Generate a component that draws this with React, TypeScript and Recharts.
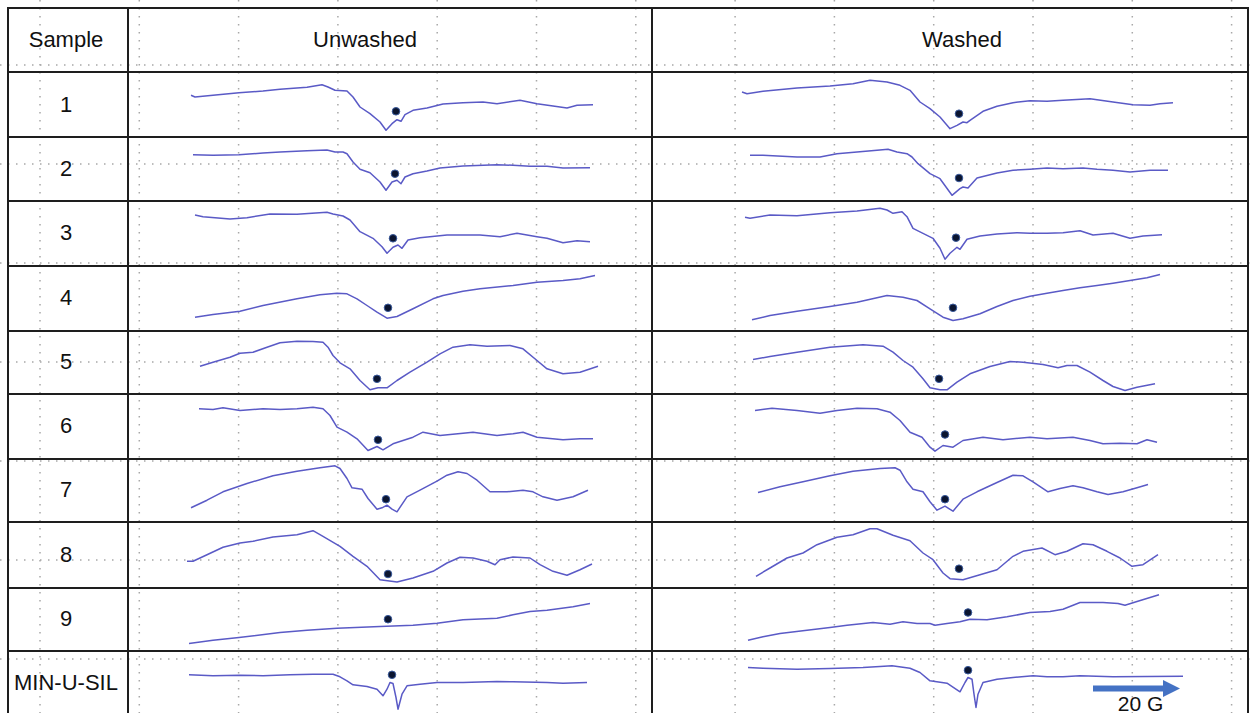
import { LineChart, Line, XAxis, YAxis, CartesianGrid, ReferenceDot, ReferenceLine } from 'recharts';

// row labels
const samples = ['1', '2', '3', '4', '5', '6', '7', '8', '9', 'MIN-U-SIL'];
const columnTitles = ['Sample', 'Unwashed', 'Washed'];

// EPR traces: [field, signal] (field in px-equivalent units from column edge)
const unwashed1 = [[63,41.7],[67,40],[85,41.7],[111,44.3],[135,46],[152,47.7],[179,49.7],[194,52.3],[200,50],[207,46.7],[219,46],[225,40],[232,30],[242,23.3],[252,15],[258,6.7],[264,13.3],[269,17.3],[273,15.7],[277,22.3],[285,26.7],[299,29],[315,33],[335,34.3],[355,35],[369,33.3],[392,36.7],[409,33.3],[425,31],[439,29],[449,31.7],[465,32.3]];
const unwashed2 = [[65,46.3],[85,45.7],[111,46.3],[135,48],[152,49],[179,50.3],[199,51],[207,49],[215,49],[219,47.3],[225,39],[232,31.7],[242,28.3],[252,19],[258,10.7],[264,19],[269,20.7],[273,17.3],[277,24],[285,27.3],[299,30],[312,33],[335,35],[369,36.3],[385,35.7],[402,34.7],[419,34.7],[435,33],[462,33.3]];
const unwashed3 = [[67,50.5],[75,48.8],[102,46.5],[119,47.8],[142,51.5],[169,51.2],[199,53.2],[205,51.5],[215,49.5],[222,45.5],[232,33.8],[245,27.2],[254,18.8],[259,12.2],[265,18.2],[270,20.5],[274,17.2],[280,25.5],[292,27.8],[319,30.5],[352,30.5],[372,28.8],[389,32.2],[409,28.8],[419,27.2],[435,22.8],[449,24.8],[462,23.8]];
const unwashed4 = [[67,13.8],[85,16.5],[112,19.8],[135,25.5],[169,32.2],[192,36.2],[209,37.8],[219,37.2],[229,32.2],[239,25.5],[249,18.8],[259,12.8],[269,14.5],[285,22.2],[305,32.2],[315,35.5],[335,39.8],[352,42.2],[385,45.5],[409,48.8],[435,50.5],[452,52.2],[467,55.5]];
const unwashed5 = [[72,27.8],[85,31.8],[102,36.8],[112,40.8],[125,41.8],[139,46.8],[152,51.2],[169,52.8],[185,52.5],[195,51.8],[200,46.8],[205,38.5],[212,31.2],[222,25.2],[232,13.5],[242,4.2],[250,6.2],[259,6.2],[269,13.5],[282,21.8],[299,31.8],[312,40.2],[325,46.8],[342,49.2],[359,47.8],[382,48.5],[395,45.2],[409,33.5],[419,25.2],[435,20.2],[452,21.8],[470,27.8]];
const unwashed6 = [[71,50.2],[85,49.5],[95,51.2],[112,48.5],[135,50.2],[152,49.5],[169,50.2],[185,51.8],[195,50.2],[202,43.5],[209,31.8],[219,26.8],[229,20.2],[240,8.5],[249,12.5],[255,9.2],[265,15.2],[285,21.8],[295,26.8],[312,23.5],[335,25.8],[345,26.8],[369,23.5],[385,25.2],[395,26.8],[409,21.8],[435,19.2],[452,20.2],[465,20.2]];
const unwashed7 = [[63,14.7],[79,22.3],[95,30.7],[119,39],[145,46.7],[169,51.3],[192,54.7],[207,56.7],[212,54],[219,44],[224,34.7],[234,33.3],[240,24],[249,13.3],[254,14.7],[259,17.3],[264,13.3],[269,10.7],[279,25.7],[292,32.3],[309,41.3],[319,47.3],[330,50.7],[339,49],[349,42.3],[362,30.7],[379,30.7],[395,32.3],[405,30.7],[415,25.7],[429,22.3],[445,25.7],[460,32.3]];
const unwashed8 = [[59,26.2],[65,26.2],[79,32.8],[95,40.2],[112,44.5],[125,46.2],[145,50.5],[169,52.8],[185,56.8],[195,51.2],[212,41.2],[225,31.2],[239,21.2],[252,7.8],[269,5.5],[285,9.5],[305,16.2],[319,24.5],[332,30.2],[345,29.5],[359,26.2],[367,22.8],[372,27.8],[385,30.5],[402,29.5],[412,22.8],[425,16.2],[439,12.2],[452,17.8],[464,23.5]];
const unwashed9 = [[61,7.5],[85,10.8],[111,13.5],[152,18.5],[179,20.8],[209,22.8],[252,24.5],[285,25.8],[309,27.8],[335,31.2],[369,32.8],[385,36.2],[402,39.5],[419,40.8],[445,44.2],[462,47.5]];
const unwashedMin = [[61,40.2],[85,39.2],[112,39.8],[135,39.2],[162,40.2],[185,40.8],[205,40.8],[212,38.2],[219,34.2],[225,30.2],[239,28.5],[249,25.8],[255,19.2],[259,25.8],[262,32.5],[265,31.5],[268,17.5],[270,5.8],[274,20.8],[279,29.2],[292,30.8],[309,32.5],[335,32.5],[369,33.5],[385,33.2],[419,32.5],[435,31.8],[459,32.5]];

const washed1 = [[90,45],[95,43.3],[111,45.7],[145,49],[178,51],[201,53.3],[218,56.7],[235,55],[248,51.7],[258,46.7],[268,35],[278,28.3],[288,20],[298,8.3],[305,11.7],[311,15],[315,14.3],[318,16.7],[331,25.7],[345,30.7],[361,34.3],[378,36.3],[395,35.7],[411,36.7],[438,38.3],[461,35],[481,32.3],[498,31.7],[508,33.3],[521,34.3]];
const washed2 = [[98,45.7],[111,45.7],[145,44],[168,44],[185,47.3],[205,49],[225,50.7],[236,51.7],[245,49],[255,47.3],[260,44],[266,37.3],[278,27.3],[288,22.3],[300,5.7],[308,12.3],[311,14],[316,13],[325,23],[345,28],[361,30.7],[378,31.7],[395,33],[411,32.3],[431,33],[445,31.7],[461,30.7],[478,29],[498,30.7],[516,30.7]];
const washed3 = [[93,48.2],[98,47.2],[118,50.5],[145,49.8],[178,52.8],[205,54.5],[228,57.2],[235,55.5],[241,52.2],[250,53.8],[255,48.8],[261,37.2],[271,32.2],[281,27.2],[288,17.2],[293,6.2],[298,12.2],[305,18.2],[308,16.2],[315,26.2],[328,29.5],[345,31.5],[365,32.8],[378,32.2],[395,32.2],[411,32.8],[428,34.8],[441,30.5],[461,32.2],[478,27.2],[491,29.5],[510,30.8]];
const washed4 = [[100,11.2],[118,15.5],[145,19.8],[178,24.5],[205,28.8],[225,33.2],[235,35.5],[251,33.8],[265,30.5],[278,22.2],[291,13.8],[301,10.5],[311,12.2],[328,17.2],[345,24.5],[361,30.5],[378,34.8],[395,37.8],[411,40.5],[428,43.2],[445,45.5],[461,47.8],[478,50.5],[495,53.2],[508,56.5]];
const washed5 = [[101,34.5],[118,37.5],[145,41.8],[178,46.8],[211,49.2],[231,47.8],[241,41.8],[251,33.5],[261,26.8],[271,15.2],[278,6.2],[288,4.2],[295,4.2],[305,11.8],[318,20.2],[338,27.5],[358,32.5],[371,31.8],[391,29.5],[406,26.2],[415,28.5],[425,28.5],[438,21.8],[451,13.5],[461,7.5],[473,3.5],[485,6.8],[503,10.2]];
const washed6 = [[103,48.5],[120,50.8],[145,48.5],[168,45.8],[185,48.5],[205,50.8],[225,50.2],[238,46.8],[248,38.5],[258,26.8],[270,21.8],[278,11.8],[283,7.8],[291,13.5],[301,11.8],[311,18.5],[331,21.8],[351,19.2],[378,21.8],[395,20.2],[421,21.8],[438,18.5],[451,15.2],[468,15.8],[485,15.2],[495,19.2],[505,16.8]];
const washed7 = [[106,30],[128,35.7],[151,40.7],[178,46.7],[201,51.3],[228,54],[243,54.7],[248,52.3],[255,40.7],[261,33.3],[271,30.7],[278,20.7],[285,12.3],[293,16.3],[301,11.3],[311,23.3],[325,30.7],[345,40],[361,47.3],[371,46.7],[381,40.7],[396,30.7],[408,34],[421,36.7],[431,34.7],[445,30.7],[456,28],[471,30.7],[485,34.7],[496,38]];
const washed8 = [[104,11.2],[118,19.5],[135,29.5],[151,34.5],[165,42.8],[185,50.2],[201,52.8],[218,58.8],[225,58.8],[241,52.2],[258,46.8],[271,34.5],[281,27.8],[291,14.5],[298,8.8],[311,7.8],[328,12.8],[345,17.8],[361,31.2],[371,36.2],[390,39.5],[403,32.8],[415,36.2],[431,43.8],[441,42.8],[455,36.2],[468,29.5],[480,21.2],[491,22.8],[506,32.8]];
const washed9 = [[96,10.8],[111,14.2],[128,17.5],[155,20.8],[178,23.5],[195,25.8],[221,28.5],[238,26.8],[251,29.2],[265,27.5],[278,27.5],[283,25.8],[295,27.5],[308,29.2],[318,31.8],[335,31.2],[355,34.2],[378,38.5],[398,39.5],[411,41.8],[428,48.5],[451,48.5],[466,47.5],[473,45.8],[485,49.5],[507,56.2]];
const washedMin = [[96,47.5],[111,46.8],[145,45.8],[178,46.5],[211,47.5],[228,48.5],[240,49.2],[258,46.8],[268,42.5],[278,34.2],[295,31.8],[308,23.2],[313,32.5],[316,37.5],[320,35.8],[322,20.8],[324,7.5],[326,20.8],[331,32.5],[345,35.8],[361,37.5],[381,39.2],[395,38.2],[411,38.2],[428,39.2],[461,38.2],[495,38.5],[531,38.8]];

// g-marker dots [field, signal]
const unwashedMarks = [[268,25.7],[267,27.3],[265,27.2],[260,23.2],[249,15.2],[250,19.2],[258,23.3],[260,13.5],[260,31.8],[264,40.2]];
const washedMarks = [[307,23.3],[307,23],[304,27.8],[301,23.2],[287,15.2],[293,24.5],[293,23.3],[307,18.8],[316,38.5],[316,44.8]];

// 20 G scale bar in the last washed cell
const scaleBar = { from: 441, to: 528, level: 26.5, label: '20 G' };

const unwashedSpectra = [unwashed1, unwashed2, unwashed3, unwashed4, unwashed5, unwashed6, unwashed7, unwashed8, unwashed9, unwashedMin];
const washedSpectra = [washed1, washed2, washed3, washed4, washed5, washed6, washed7, washed8, washed9, washedMin];

// layout
const W = 1253;
const H = 713;
const rowEdges = [72, 137, 201, 265.5, 330.5, 393.5, 458.5, 522, 587.5, 650.5, 714.5];
const colEdges = [8, 128, 652, 1248];
const titleCentres = [66, 365, 962];
const labelCentre = 66;
const tableTop = 8;
const gridStep = 99.3;
const gridX = Array.from({ length: 13 }, (_, i) => 40 + i * gridStep);
const gridY = Array.from({ length: 7 }, (_, i) => 65 + i * 99);

const FONT = '"Liberation Sans", Arial, sans-serif';
const TRACE = '#5a5ac6';
const LINE = '#1e1e1e';

const Arrow = (props: any) => {
    const { x1, y1, x2 } = props;
    const head = 17;
    return (
        <g>
            <line x1={x1} y1={y1} x2={x2 - head + 1} y2={y1} stroke="#4472c4" strokeWidth={6} />
            <polygon points={`${x2 - head},${y1 - 8.5} ${x2},${y1} ${x2 - head},${y1 + 8.5}`} fill="#4472c4" />
            <text x={(x1 + x2) / 2 + 4} y={y1 + 22} textAnchor="middle" fontSize={21} fill="#111" fontFamily={FONT}>
                {scaleBar.label}
            </text>
        </g>
    );
};

function Spectrum({ points, mark, width, height, bar }: any) {
    const data = points.map(([b, s]: number[]) => ({ b, s }));
    return (
        <LineChart width={width} height={height} data={data} margin={{ top: 0, right: 0, bottom: 0, left: 0 }}>
            <XAxis type="number" dataKey="b" domain={[0, width]} hide />
            <YAxis type="number" domain={[0, height]} hide />
            <Line type="linear" dataKey="s" stroke={TRACE} strokeWidth={1.5} strokeLinejoin="round" dot={false} isAnimationActive={false} />
            <ReferenceDot x={mark[0]} y={mark[1]} r={3.8} fill="#0b1530" stroke="#3a5a9c" strokeWidth={1} />
            {bar && (
                <ReferenceLine
                    segment={[{ x: bar.from, y: bar.level }, { x: bar.to, y: bar.level }]}
                    shape={Arrow}
                    ifOverflow="visible"
                />
            )}
        </LineChart>
    );
}

const textBox = (cx: number, top: number, height: number) => ({
    position: 'absolute' as const,
    left: cx - 100,
    top,
    width: 200,
    height,
    display: 'flex',
    alignItems: 'center',
    justifyContent: 'center',
    fontSize: 22,
    color: '#111',
});

export default function App() {
    const hLines = [tableTop, ...rowEdges.slice(0, -1)];
    return (
        <div style={{ position: 'absolute', left: 0, top: 0, width: W, height: H, overflow: 'hidden', background: '#fff', fontFamily: FONT }}>
            <div style={{ position: 'absolute', left: 0, top: 0 }}>
                <LineChart width={W} height={H} data={[{ x: 0, y: 0 }]} margin={{ top: 0, right: 0, bottom: 0, left: 0 }}>
                    <XAxis type="number" dataKey="x" domain={[0, W]} hide />
                    <YAxis type="number" domain={[0, H]} hide />
                    <CartesianGrid
                        verticalPoints={gridX}
                        horizontalPoints={gridY}
                        stroke="#a8a8a8"
                        strokeWidth={1.5}
                        strokeDasharray="1.5 6.5"
                    />
                </LineChart>
            </div>

            {hLines.map((y, i) => (
                <div key={'h' + i} style={{ position: 'absolute', left: colEdges[0] - 1, top: y - 1, width: colEdges[3] - colEdges[0] + 2, height: 2, background: LINE }} />
            ))}
            {colEdges.map((x, i) => (
                <div key={'v' + i} style={{ position: 'absolute', left: x - 1, top: tableTop - 1, width: 2, height: H, background: LINE }} />
            ))}

            {columnTitles.map((t, i) => (
                <div key={t} style={textBox(titleCentres[i], tableTop, rowEdges[0] - tableTop)}>
                    {t}
                </div>
            ))}

            {samples.map((s, i) => (
                <div key={s} style={textBox(labelCentre, rowEdges[i], rowEdges[i + 1] - rowEdges[i])}>
                    {s}
                </div>
            ))}

            {samples.map((s, i) => {
                const h = rowEdges[i + 1] - rowEdges[i];
                return (
                    <div key={'c' + s}>
                        <div style={{ position: 'absolute', left: colEdges[1], top: rowEdges[i] }}>
                            <Spectrum points={unwashedSpectra[i]} mark={unwashedMarks[i]} width={colEdges[2] - colEdges[1]} height={h} />
                        </div>
                        <div style={{ position: 'absolute', left: colEdges[2], top: rowEdges[i] }}>
                            <Spectrum points={washedSpectra[i]} mark={washedMarks[i]} width={colEdges[3] - colEdges[2]} height={h} bar={i === samples.length - 1 ? scaleBar : null} />
                        </div>
                    </div>
                );
            })}
        </div>
    );
}
